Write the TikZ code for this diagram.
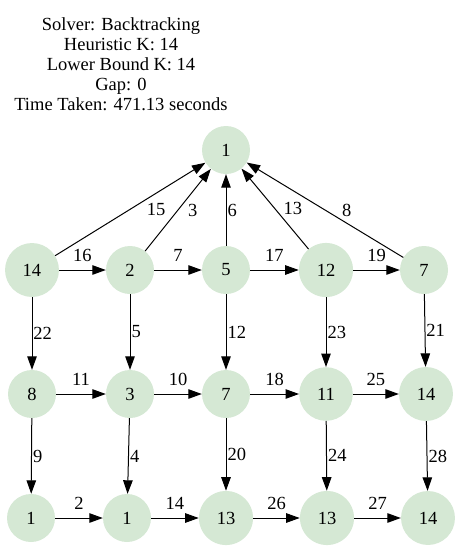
\documentclass[tikz,border=0pt]{standalone}
\usepackage{fontspec}
\setmainfont{Liberation Serif}
\usetikzlibrary{arrows.meta}

\definecolor{cellgreen}{RGB}{213,232,212}

\tikzset{
  cell/.style={circle, fill=cellgreen, inner sep=11.4pt, minimum size=48pt},
  link/.style={line width=1pt, -{Triangle[length=13.5pt,width=9.5pt]}},
  wlab/.style={inner sep=1pt}
}

\begin{document}
\begin{tikzpicture}[x=1pt, y=-1pt, font=\fontsize{18.5pt}{20pt}\selectfont]
      \useasboundingbox (0,0) rectangle (462,550);

      % Solver summary
      \node (info) [align=center, anchor=north, inner sep=0pt] at (121,17.5)
        {Solver: Backtracking\\Heuristic K: 14\\Lower Bound K: 14\\Gap: 0\\Time Taken: 471.13 seconds};

      % Sink at the top
      \node[cell] (top) at (226,150) {1};

      % Grid of cells: name/x/y/value
      \foreach \n/\x/\y/\v in {a1/32/270/14, a2/130/270/2, a3/226/270/5, a4/326/270/12, a5/424/270/7,
                               b1/32/394/8, b2/130/394/3, b3/226/394/7, b4/326/394/11, b5/426/394/14,
                               c1/31/518/1, c2/127/518/1, c3/226/518/13, c4/327/518/13, c5/428/518/14} {
          \node[cell] (\n) at (\x,\y) {\v};
      }

      % Edges into the top cell
      \foreach \a/\s/\w in {a1/15/15, a2/8.5/3, a3/0/6, a4/7/13, a5/15.5/8} {
          \draw[link] (\a) -- node[wlab, midway, right=\s pt] {\w} (top);
      }

      % Horizontal edges
      \foreach \a/\b/\w in {a1/a2/16, a2/a3/7, a3/a4/17, a4/a5/19,
                            b1/b2/11, b2/b3/10, b3/b4/18, b4/b5/25,
                            c1/c2/2, c2/c3/14, c3/c4/26, c4/c5/27} {
          \draw[link] (\a) -- node[wlab, midway, above=7pt] {\w} (\b);
      }

      % Vertical edges
      \foreach \a/\b/\w in {a1/b1/22, a2/b2/5, a3/b3/12, a4/b4/23, a5/b5/21,
                            b1/c1/9, b2/c2/4, b3/c3/20, b4/c4/24, b5/c5/28} {
          \draw[link] (\a) -- node[wlab, midway, right=0pt] {\w} (\b);
      }
\end{tikzpicture}
\end{document}
